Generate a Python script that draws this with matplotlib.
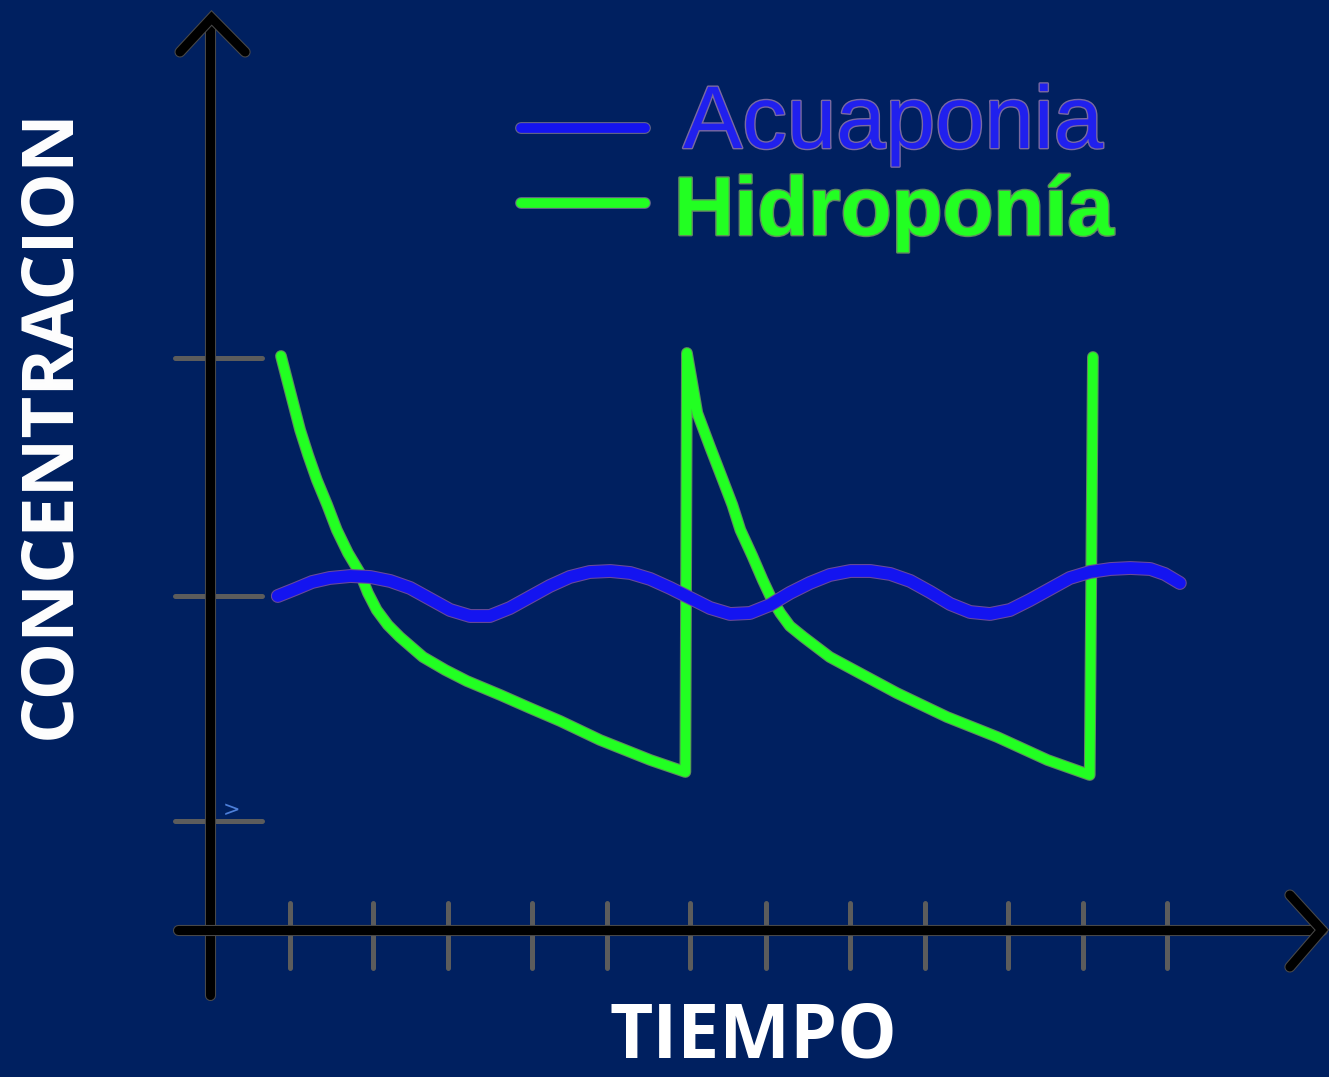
import matplotlib
matplotlib.use("Agg")
import matplotlib.pyplot as plt
import matplotlib.patheffects as pe

BG = "#002060"

# Hidroponía: two decay cycles, each refilled (vertical jump)
hidro_t = [0.89, 1.00, 1.13, 1.23, 1.34, 1.47, 1.59, 1.73, 1.88, 1.98, 2.09, 2.23, 2.38, 2.67,
           2.95, 3.22, 3.64, 4.01, 4.39, 4.89, 5.52, 5.96,
           5.98, 6.05, 6.11, 6.27, 6.43, 6.55, 6.65, 6.80, 6.93, 7.03, 7.15, 7.27, 7.44, 7.77,
           8.19, 8.61, 9.24, 9.87, 10.50, 11.03,
           11.07]
hidro_c = [5.74, 5.40, 5.00, 4.75, 4.50, 4.25, 4.00, 3.77, 3.57, 3.37, 3.20, 3.05, 2.93, 2.73,
           2.60, 2.49, 2.35, 2.22, 2.09, 1.90, 1.70, 1.58,
           5.77, 5.45, 5.17, 4.83, 4.50, 4.25, 4.00, 3.74, 3.50, 3.33, 3.17, 3.04, 2.93, 2.73,
           2.55, 2.37, 2.13, 1.93, 1.70, 1.55,
           5.73]

# Acuaponia: small oscillation around a stable level
acua_t = [0.85, 1.07, 1.28, 1.50, 1.76, 2.01, 2.26, 2.51, 2.76, 3.01, 3.26, 3.51, 3.76, 4.01,
          4.26, 4.51, 4.76, 5.02, 5.27, 5.52, 5.77, 6.02, 6.27, 6.52, 6.77, 7.02, 7.27, 7.52,
          7.77, 8.03, 8.28, 8.53, 8.78, 9.03, 9.28, 9.53, 9.78, 10.03, 10.28, 10.53, 10.78,
          11.03, 11.29, 11.54, 11.79, 11.97, 12.16]
acua_c = [3.34, 3.41, 3.48, 3.52, 3.54, 3.53, 3.49, 3.42, 3.31, 3.20, 3.14, 3.14, 3.22, 3.33,
          3.44, 3.53, 3.58, 3.59, 3.57, 3.51, 3.42, 3.32, 3.22, 3.16, 3.17, 3.25, 3.37, 3.47,
          3.55, 3.59, 3.59, 3.56, 3.49, 3.38, 3.26, 3.18, 3.16, 3.20, 3.30, 3.41, 3.52,
          3.58, 3.61, 3.62, 3.61, 3.56, 3.47]

x_ticks = [1.00, 2.04, 2.98, 4.04, 4.98, 6.02, 6.97, 8.03, 8.97, 10.01, 10.95, 12.00]
y_ticks = [1.09, 3.34, 5.72]

legend_labels = ["Acuaponia", "Hidroponía"]
colors = ["#1414f0", "#22ff22"]

fig = plt.figure(figsize=(13.29, 10.77), dpi=100, facecolor=BG)
ax = fig.add_axes([0, 0, 1, 1])
ax.set_facecolor(BG)
ax.set_xlim(-2.633, 14.03)
ax.set_ylim(-1.47, 9.30)
ax.axis("off")

axis_fx = [pe.Stroke(linewidth=8, foreground="#4a4a4a"), pe.Normal()]

# tick marks (gray) under the axes
for t in x_ticks:
    ax.plot([t, t], [-0.38, 0.27], color="#5c5c5c", lw=3.6, solid_capstyle="round", zorder=1)
for c in y_ticks:
    ax.plot([-0.44, 0.65], [c, c], color="#5c5c5c", lw=3.6, solid_capstyle="round", zorder=1)

# axes with arrows
ax.plot([0, 0], [-0.65, 9.10], color="black", lw=6.5, solid_capstyle="round", zorder=2,
        path_effects=axis_fx)
ax.plot([-0.376, 0.02, 0.44], [8.78, 9.12, 8.78], color="black", lw=6.5,
        solid_capstyle="round", solid_joinstyle="miter", zorder=2, path_effects=axis_fx)
ax.plot([-0.40, 13.94], [0, 0], color="black", lw=6.5, solid_capstyle="round", zorder=2,
        path_effects=axis_fx)
ax.plot([13.54, 13.94, 13.54], [0.35, 0, -0.37], color="black", lw=6.5,
        solid_capstyle="round", solid_joinstyle="miter", zorder=2, path_effects=axis_fx)

# series
ax.plot(hidro_t, hidro_c, color=colors[1], lw=7, solid_capstyle="round",
        solid_joinstyle="round", zorder=3,
        path_effects=[pe.Stroke(linewidth=8.5, foreground="#5f8a5f"), pe.Normal()])
ax.plot(acua_t, acua_c, color=colors[0], lw=8.5, solid_capstyle="round",
        solid_joinstyle="round", zorder=4,
        path_effects=[pe.Stroke(linewidth=10, foreground="#6a4a9a"), pe.Normal()])

ax.text(0.27, 1.2, ">", color="#4d7fd9", fontsize=15, ha="center", va="center",
        family="DejaVu Sans")

# hand-made legend (figure pixel coords)
W, H = 1329, 1077
leg_y = [128, 203]
for i, lab in enumerate(legend_labels):
    y = 1 - leg_y[i] / H
    fig.add_artist(plt.Line2D([521 / W, 645 / W], [y, y], color=colors[i], lw=7,
                              solid_capstyle="round",
                              path_effects=[pe.Stroke(linewidth=8.5, foreground="#6a6a8a"),
                                            pe.Normal()]))
fig.text(683 / W, 1 - 148 / H, legend_labels[0], color="#2020ee", fontsize=64,
         family="Liberation Sans", ha="left", va="baseline",
         path_effects=[pe.Stroke(linewidth=2, foreground="#7a6aa0"), pe.Normal()])
fig.text(674 / W, 1 - 235 / H, legend_labels[1], color=colors[1], fontsize=60,
         family="Liberation Sans", fontweight="bold", ha="left", va="baseline",
         path_effects=[pe.Stroke(linewidth=2, foreground="#5f8a5f"), pe.Normal()])

# axis titles
fig.text(50 / W, 1 - 424 / H, "CONCENTRACION", color="white", fontsize=52,
         family="Open Sans", fontweight="bold", rotation=90, ha="center", va="center")
fig.text(753 / W, 2 / H, "TIEMPO", color="white", fontsize=54,
         family="Open Sans", fontweight="bold", ha="center", va="bottom")

fig.savefig("out.png", dpi=100, facecolor=BG)
